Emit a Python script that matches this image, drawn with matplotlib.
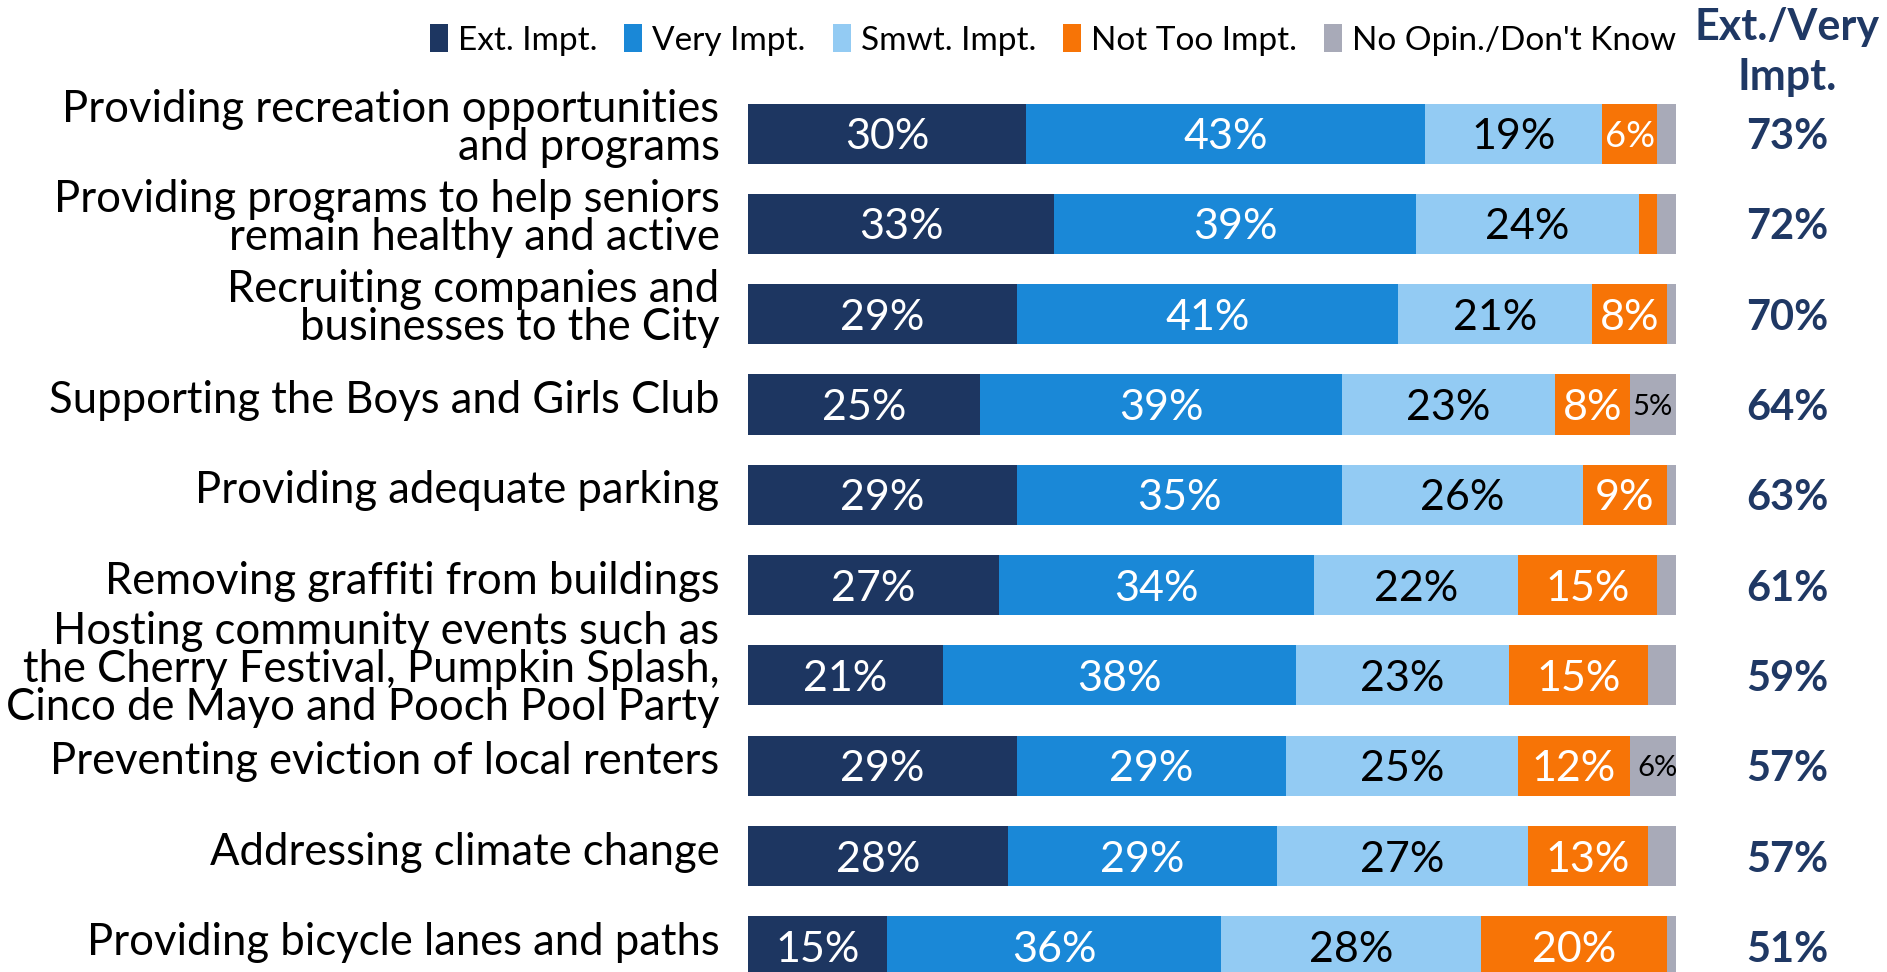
import matplotlib
matplotlib.use("Agg")
import matplotlib.pyplot as plt
from matplotlib.patches import Patch
from matplotlib.transforms import ScaledTranslation
import numpy as np

plt.rcParams['font.family'] = ['Lato', 'DejaVu Sans']

categories = [
    "Providing recreation opportunities\nand programs",
    "Providing programs to help seniors\nremain healthy and active",
    "Recruiting companies and\nbusinesses to the City",
    "Supporting the Boys and Girls Club",
    "Providing adequate parking",
    "Removing graffiti from buildings",
    "Hosting community events such as\nthe Cherry Festival, Pumpkin Splash,\nCinco de Mayo and Pooch Pool Party",
    "Preventing eviction of local renters",
    "Addressing climate change",
    "Providing bicycle lanes and paths",
]
ext_impt = [30, 33, 29, 25, 29, 27, 21, 29, 28, 15]
very_impt = [43, 39, 41, 39, 35, 34, 38, 29, 29, 36]
smwt_impt = [19, 24, 21, 23, 26, 22, 23, 25, 27, 28]
not_too_impt = [6, 2, 8, 8, 9, 15, 15, 12, 13, 20]
no_opinion = [2, 2, 1, 5, 2, 2, 3, 6, 3, 1]
ext_very_total = [73, 72, 70, 64, 63, 61, 59, 57, 57, 51]

series_names = ["Ext. Impt.", "Very Impt.", "Smwt. Impt.", "Not Too Impt.", "No Opin./Don't Know"]
series_values = [ext_impt, very_impt, smwt_impt, not_too_impt, no_opinion]
colors = ["#1d3661", "#1a88d7", "#93cbf3", "#f77406", "#a8aab8"]
text_colors = ["white", "white", "black", "white", "black"]
navy = "#1f3864"

W, H = 1887, 972
fig = plt.figure(figsize=(W / 100, H / 100), dpi=100)
row_px = 90.3
first_center = 133.6
top_px = first_center - row_px / 2
ax = fig.add_axes([748 / W, 0, 928 / W, 1 - top_px / H])

y = np.arange(len(categories))
left = np.zeros(len(categories))
for name, vals, col, tcol in zip(series_names, series_values, colors, text_colors):
    vals = np.array(vals, dtype=float)
    ax.barh(y, vals, left=left, height=0.665, color=col, label=name, linewidth=0)
    for yi, (l, v) in enumerate(zip(left, vals)):
        if v >= 5:
            if v >= 8:
                fs = 31
            elif col == colors[4]:
                fs = 21
            else:
                fs = 26
            ax.text(l + v / 2, yi, f"{int(v)}%", ha="center", va="center_baseline",
                    color=tcol, fontsize=fs)
    left += vals

ax.set_xlim(0, 100)
ax.set_ylim((H - first_center) / row_px, -0.5)
ax.set_yticks(y, categories)
ax.tick_params(left=False, bottom=False, labelbottom=False, pad=17, labelsize=31.4)
off = ScaledTranslation(0, 8 / 100, fig.dpi_scale_trans)
for lab in ax.get_yticklabels():
    lab.set_linespacing(0.91)
    lab.set_transform(lab.get_transform() + off)
for s in ax.spines.values():
    s.set_visible(False)

x_total = (1787 - 748) / 928 * 100
for yi, t in enumerate(ext_very_total):
    ax.text(x_total, yi, f"{t}%", ha="center", va="center_baseline", color=navy,
            fontsize=30, fontweight="bold", clip_on=False)

fig.text(1787 / W, 1 - 52 / H, "Ext./Very\nImpt.", ha="center", va="center",
         color=navy, fontsize=31, fontweight="bold", linespacing=1.28)

handles = [Patch(facecolor=c, label=n) for c, n in zip(colors, series_names)]
fig.legend(handles=handles, ncol=5, loc="center", bbox_to_anchor=(1053 / W, 1 - 40 / H),
           frameon=False, fontsize=24, handlelength=0.55, handleheight=0.9,
           handletextpad=0.3, columnspacing=0.8, borderpad=0)

fig.savefig("out.png", dpi=100)
